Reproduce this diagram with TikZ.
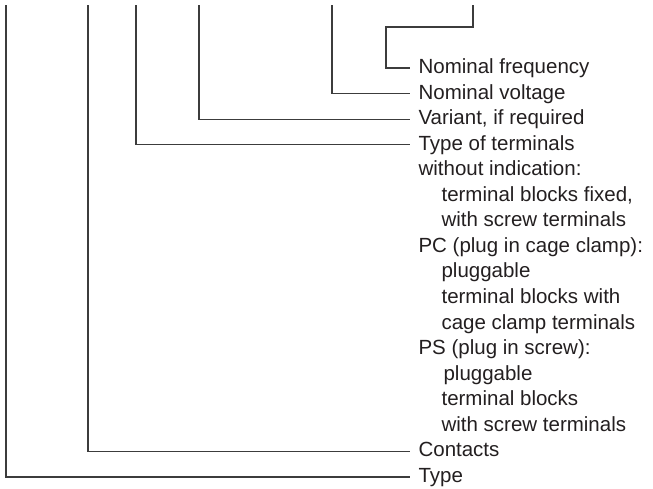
\documentclass[tikz,border=0pt]{standalone}
\usepackage{fontspec}
\setmainfont{Liberation Sans}
\usetikzlibrary{positioning}
\definecolor{linegray}{HTML}{3C3C3C}
\definecolor{textblack}{HTML}{231F20}

\begin{document}
\begin{tikzpicture}[x=1pt, y=-1pt, line width=1.1pt,
  lead/.style={draw=linegray},
  item/.style={anchor=west, inner xsep=8pt, inner ysep=0pt,
    text height=15pt, text depth=4pt, text=textblack,
    font=\fontsize{20.5}{24}\selectfont},
  subitem/.style={item, xshift=23pt}]

  \useasboundingbox (0,0) rectangle (653,488);

  \def\ytop{5}      % upper end of the leads
  \def\yfirst{68}   % first row
  \def\rowsep{25.56}
  \def\xtext{410}

  % Labelled rows
  \node[item] (freq)  at (\xtext, {\yfirst+0*\rowsep})  {Nominal frequency};
  \node[item] (volt)  at (\xtext, {\yfirst+1*\rowsep})  {Nominal voltage};
  \node[item] (var)   at (\xtext, {\yfirst+2*\rowsep})  {Variant, if required};
  \node[item] (term)  at (\xtext, {\yfirst+3*\rowsep})  {Type of terminals};
  \node[item] (cont)  at (\xtext, {\yfirst+15*\rowsep}) {Contacts};
  \node[item] (type)  at (\xtext, {\yfirst+16*\rowsep}) {Type};

  % Terminal options
  \node[item]    (noind)  at (\xtext, {\yfirst+4*\rowsep})  {without indication:};
  \node[subitem] (noindA) at (\xtext, {\yfirst+5*\rowsep})  {terminal blocks fixed,};
  \node[subitem] (noindB) at (\xtext, {\yfirst+6*\rowsep})  {with screw terminals};
  \node[item]    (pc)     at (\xtext, {\yfirst+7*\rowsep})  {PC (plug in cage clamp):};
  \node[subitem] (pcA)    at (\xtext, {\yfirst+8*\rowsep})  {pluggable};
  \node[subitem] (pcB)    at (\xtext, {\yfirst+9*\rowsep})  {terminal blocks with};
  \node[subitem] (pcC)    at (\xtext, {\yfirst+10*\rowsep}) {cage clamp terminals};
  \node[item]    (ps)     at (\xtext, {\yfirst+11*\rowsep}) {PS (plug in screw):};
  \node[subitem, xshift=2pt] (psA) at (\xtext, {\yfirst+12*\rowsep}) {pluggable};
  \node[subitem] (psB)    at (\xtext, {\yfirst+13*\rowsep}) {terminal blocks};
  \node[subitem] (psC)    at (\xtext, {\yfirst+14*\rowsep}) {with screw terminals};

  % Upper ends of the leads
  \coordinate (typetop) at (6,\ytop);
  \coordinate (conttop) at (88,\ytop);
  \coordinate (termtop) at (136,\ytop);
  \coordinate (vartop)  at (199,\ytop);
  \coordinate (volttop) at (332,\ytop);
  \coordinate (freqtop) at (473,\ytop);
  \coordinate (freqbend) at (386,27);

  % Leads
  \draw[lead] (typetop) |- (type.west);
  \draw[lead] (conttop) |- (cont.west);
  \draw[lead] (termtop) |- (term.west);
  \draw[lead] (vartop)  |- (var.west);
  \draw[lead] (volttop) |- (volt.west);
  \draw[lead] (freqtop) |- (freqbend) |- (freq.west);
\end{tikzpicture}
\end{document}
